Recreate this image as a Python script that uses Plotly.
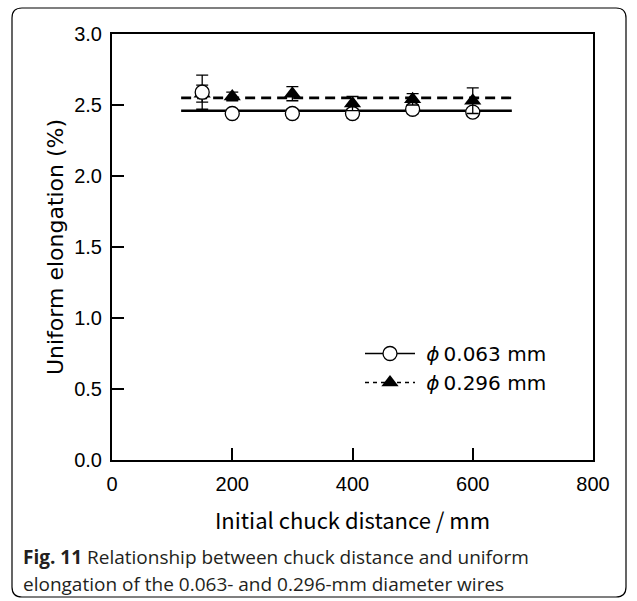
import plotly.graph_objects as go

# Initial chuck distance (mm)
distance = [150, 200, 300, 400, 500, 600]

# Uniform elongation (%) and standard deviation, 0.063-mm wire
elong_063 = [2.59, 2.44, 2.44, 2.44, 2.47, 2.45]
err_063 = [0.12, 0.02, 0.03, 0.03, 0.03, 0.03]

# Uniform elongation (%) and standard deviation, 0.296-mm wire
elong_296 = [2.58, 2.56, 2.58, 2.51, 2.54, 2.53]
err_296 = [0.06, 0.03, 0.05, 0.05, 0.04, 0.09]

# Mean levels drawn across the tested span
mean_span = [115, 665]
mean_063 = 2.46
mean_296 = 2.55

x_ticks = [0, 200, 400, 600, 800]
y_ticks = [0.0, 0.5, 1.0, 1.5, 2.0, 2.5, 3.0]

W, H = 637, 601
L, R, T, B = 112, 44, 34, 141
PW, PH = W - L - R, H - T - B


def px(x):
    return (x - L) / PW


def py(y):
    return (H - B - y) / PH


fig = go.Figure()

# mean lines
fig.add_trace(go.Scatter(x=mean_span, y=[mean_063] * 2, mode="lines",
                         line=dict(color="black", width=2.6),
                         showlegend=False, hoverinfo="skip"))
fig.add_trace(go.Scatter(x=mean_span, y=[mean_296] * 2, mode="lines",
                         line=dict(color="black", width=2.6, dash="10px,6px"),
                         showlegend=False, hoverinfo="skip"))

err_style = dict(type="data", visible=True, color="black", thickness=1.3, width=6)

# 0.296 mm: filled triangles (first point sits under the open circle)
fig.add_trace(go.Scatter(x=distance[:1], y=elong_296[:1], mode="markers",
                         marker=dict(symbol="triangle-up", size=15, color="black"),
                         error_y=dict(array=err_296[:1], **err_style),
                         showlegend=False))
# 0.063 mm: open circles
fig.add_trace(go.Scatter(x=distance, y=elong_063, mode="markers",
                         marker=dict(symbol="circle", size=14, color="white",
                                     line=dict(color="black", width=1.3)),
                         error_y=dict(array=err_063, **err_style),
                         showlegend=False))
fig.add_trace(go.Scatter(x=distance[1:], y=elong_296[1:], mode="markers",
                         marker=dict(symbol="triangle-up", size=15, color="black"),
                         error_y=dict(array=err_296[1:], **err_style),
                         showlegend=False))

# legend entries
fig.add_trace(go.Scatter(x=[None], y=[None], mode="lines+markers",
                         name="\u00a0<i>ϕ</i>\u20090.063 mm",
                         line=dict(color="black", width=1.5),
                         marker=dict(symbol="circle", size=14, color="white",
                                     line=dict(color="black", width=1.3))))
fig.add_trace(go.Scatter(x=[None], y=[None], mode="lines+markers",
                         name="\u00a0<i>ϕ</i>\u20090.296 mm",
                         line=dict(color="black", width=1.5, dash="4px,4px"),
                         marker=dict(symbol="triangle-up", size=15, color="black")))

axis_common = dict(showline=True, linecolor="black", linewidth=2, mirror=True,
                   ticks="inside", ticklen=12, tickwidth=2, tickcolor="black",
                   showgrid=False, zeroline=False,
                   tickfont=dict(family="Liberation Sans", size=20, color="black"))

fig.update_xaxes(range=[0, 800], tickvals=x_ticks,
                 ticktext=[str(v) for v in x_ticks],
                 ticklabelstandoff=5,
                 title=dict(text="Initial chuck distance / mm",
                            font=dict(family="Noto Sans CJK JP", size=22, color="black"),
                            standoff=20),
                 **axis_common)
fig.update_yaxes(range=[0, 3], tickvals=y_ticks,
                 ticktext=[f"{v:.1f}" for v in y_ticks],
                 ticklabelstandoff=4,
                 title=dict(text="Uniform elongation (%)",
                            font=dict(family="DejaVu Sans", size=22, color="black"),
                            standoff=4),
                 **axis_common)

# rounded frame around the figure and caption
x0, x1 = px(12), px(626)
y0, y1 = py(597), py(8)
rx, ry = 10 / PW, 10 / PH
frame = (f"M {x0+rx} {y1} L {x1-rx} {y1} Q {x1} {y1} {x1} {y1-ry} "
         f"L {x1} {y0+ry} Q {x1} {y0} {x1-rx} {y0} "
         f"L {x0+rx} {y0} Q {x0} {y0} {x0} {y0+ry} "
         f"L {x0} {y1-ry} Q {x0} {y1} {x0+rx} {y1} Z")
fig.add_shape(type="path", path=frame, xref="paper", yref="paper",
              line=dict(color="black", width=1.2), layer="above")

caption_font = dict(family="Open Sans", size=19, color="#231f20")
fig.add_annotation(text="<b>Fig. 11</b> Relationship between chuck distance and uniform",
                   xref="paper", yref="paper", x=px(21), y=py(557),
                   xanchor="left", yanchor="middle", showarrow=False, font=caption_font)
fig.add_annotation(text="elongation of the 0.063- and 0.296-mm diameter wires",
                   xref="paper", yref="paper", x=px(21), y=py(584),
                   xanchor="left", yanchor="middle", showarrow=False, font=caption_font)

fig.update_layout(
    width=W, height=H,
    margin=dict(l=L, r=R, t=T, b=B),
    paper_bgcolor="white", plot_bgcolor="white",
    showlegend=True,
    legend=dict(x=px(360), y=py(334), xanchor="left", yanchor="top",
                bgcolor="rgba(0,0,0,0)", itemwidth=50,
                font=dict(family="DejaVu Sans", size=20, color="black"),
                tracegroupgap=0),
)

fig.write_html("out.html")
